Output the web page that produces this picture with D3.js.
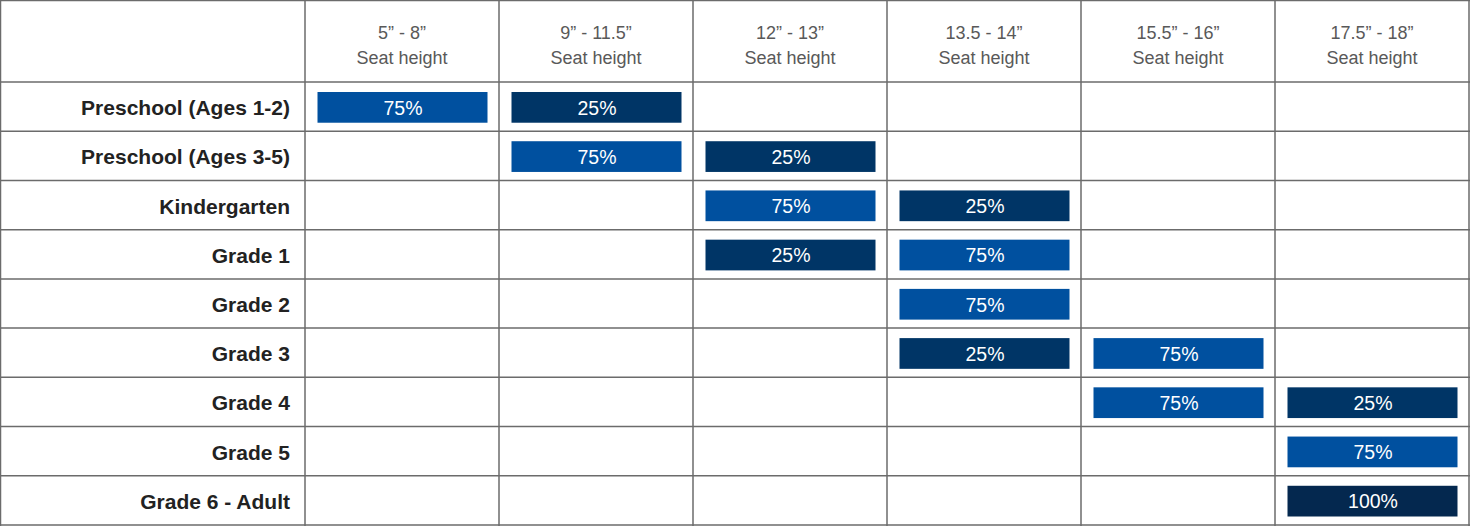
<!DOCTYPE html>
<html>
<head>
<meta charset="utf-8">
<script src="https://cdn.jsdelivr.net/npm/d3@7"></script>
<style>
  body { margin: 0; background: #fff; }
  svg { display: block; font-family: "Liberation Sans", Arial, sans-serif; }
</style>
</head>
<body>
<svg width="1470" height="526"></svg>
<script>
const sizes = ["5\u201d - 8\u201d", "9\u201d - 11.5\u201d", "12\u201d - 13\u201d", "13.5 - 14\u201d", "15.5\u201d - 16\u201d", "17.5\u201d - 18\u201d"];
const subLabel = "Seat height";
const grades = ["Preschool (Ages 1-2)", "Preschool (Ages 3-5)", "Kindergarten", "Grade 1", "Grade 2", "Grade 3", "Grade 4", "Grade 5", "Grade 6 - Adult"];
// share of students per seat height, one row per grade (0 = none)
const shares = [
  [75, 25, 0, 0, 0, 0],
  [0, 75, 25, 0, 0, 0],
  [0, 0, 75, 25, 0, 0],
  [0, 0, 25, 75, 0, 0],
  [0, 0, 0, 75, 0, 0],
  [0, 0, 0, 25, 75, 0],
  [0, 0, 0, 0, 75, 25],
  [0, 0, 0, 0, 0, 75],
  [0, 0, 0, 0, 0, 100]
];

const svg = d3.select("svg");
const W = 1470, H = 526;
const labelW = 305, headerH = 82;

const x = d3.scaleBand().domain(sizes).range([labelW, W - 1]);
const y = d3.scaleBand().domain(grades).range([headerH, H - 1]);

const color = d3.scaleOrdinal().domain([75, 25, 100]).range(["#00509f", "#003566", "#04284f"]);

// cells
const cells = [];
grades.forEach((g, i) => sizes.forEach((s, j) => {
  if (shares[i][j] > 0) cells.push({ grade: g, size: s, v: shares[i][j] });
}));

const padX = 12.5, padY = 10;
const bar = svg.append("g").selectAll("g")
  .data(cells).enter().append("g");

bar.append("rect")
  .attr("x", d => x(d.size) + padX)
  .attr("y", d => y(d.grade) + padY)
  .attr("width", x.bandwidth() - 2 * padX + 1)
  .attr("height", y.bandwidth() - 2 * padY + 1.5)
  .attr("fill", d => color(d.v));

bar.append("text")
  .attr("x", d => x(d.size) + x.bandwidth() / 2 + 1)
  .attr("y", d => y(d.grade) + y.bandwidth() / 2 + 1)
  .attr("text-anchor", "middle")
  .attr("dominant-baseline", "central")
  .attr("fill", "#fff")
  .style("font-size", "19.5px")
  .text(d => d.v + "%");

// grid lines
const grid = svg.append("g").attr("stroke", "#6b6b6b").attr("stroke-width", 1.5);
const vx = [0.5, labelW].concat(sizes.map(s => x(s) + x.bandwidth()));
vx.forEach(v => grid.append("line").attr("x1", v).attr("x2", v).attr("y1", 0).attr("y2", H));
const hy = [0.5, headerH].concat(grades.map(g => y(g) + y.bandwidth()));
hy.forEach(v => grid.append("line").attr("y1", v).attr("y2", v).attr("x1", 0).attr("x2", W));

// header
const head = svg.append("g").selectAll("text").data(sizes).enter().append("text")
  .attr("text-anchor", "middle")
  .attr("fill", "#595959")
  .style("font-size", "18px");
head.append("tspan").attr("x", d => x(d) + x.bandwidth() / 2).attr("y", 39).text(d => d);
head.append("tspan").attr("x", d => x(d) + x.bandwidth() / 2).attr("y", 64).text(subLabel);

// row labels
svg.append("g").selectAll("text").data(grades).enter().append("text")
  .attr("x", 290)
  .attr("y", d => y(d) + y.bandwidth() / 2 + 1)
  .attr("text-anchor", "end")
  .attr("dominant-baseline", "central")
  .attr("fill", "#222")
  .style("font-size", "21px")
  .style("font-weight", "bold")
  .text(d => d);
</script>
</body>
</html>
